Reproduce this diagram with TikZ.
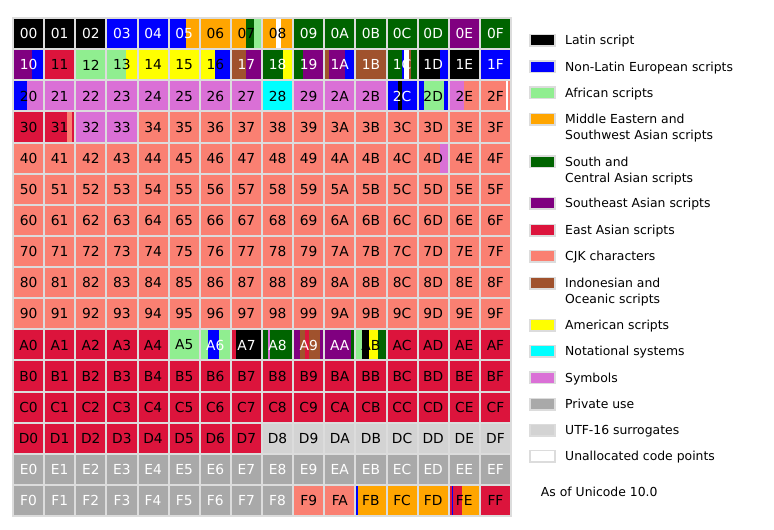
\documentclass[tikz,border=0pt]{standalone}
\usepackage{fontspec}
\setmainfont{DejaVu Sans}
\definecolor{latin}{HTML}{000000}
\definecolor{nonlatin}{HTML}{0000FF}
\definecolor{african}{HTML}{90EE90}
\definecolor{mideast}{HTML}{FFA500}
\definecolor{southasia}{HTML}{006400}
\definecolor{seasia}{HTML}{800080}
\definecolor{eastasia}{HTML}{DC143C}
\definecolor{cjk}{HTML}{FA8072}
\definecolor{indonesian}{HTML}{A0522D}
\definecolor{american}{HTML}{FFFF00}
\definecolor{notational}{HTML}{00FFFF}
\definecolor{symbols}{HTML}{DA70D6}
\definecolor{private}{HTML}{A9A9A9}
\definecolor{surrogate}{HTML}{D3D3D3}
\definecolor{unalloc}{HTML}{FFFFFF}
\definecolor{gridgray}{HTML}{DCDCDC}

\newcommand\defcell[3]{\expandafter\def\csname seg@#1\endcsname{#3}\expandafter\def\csname tc@#1\endcsname{#2}}
% row 0
\defcell{00}{white}{latin/0/1}
\defcell{01}{white}{latin/0/1}
\defcell{02}{white}{latin/0/1}
\defcell{03}{white}{nonlatin/0/1}
\defcell{04}{white}{nonlatin/0/1}
\defcell{05}{white}{nonlatin/0/.5625,mideast/.5625/1}
\defcell{06}{black}{mideast/0/1}
\defcell{07}{black}{mideast/0/.5,southasia/.5/.75,african/.75/1}
\defcell{08}{black}{mideast/0/.4375,unalloc/.4375/.625,mideast/.625/1}
\defcell{09}{white}{southasia/0/1}
\defcell{0A}{white}{southasia/0/1}
\defcell{0B}{white}{southasia/0/1}
\defcell{0C}{white}{southasia/0/1}
\defcell{0D}{white}{southasia/0/1}
\defcell{0E}{white}{seasia/0/1}
\defcell{0F}{white}{southasia/0/1}
% row 1
\defcell{10}{white}{seasia/0/.625,nonlatin/.625/1}
\defcell{11}{black}{eastasia/0/1}
\defcell{12}{black}{african/0/1}
\defcell{13}{black}{african/0/.625,american/.625/1}
\defcell{14}{black}{american/0/1}
\defcell{15}{black}{american/0/1}
\defcell{16}{black}{american/0/.5,nonlatin/.5/1}
\defcell{17}{white}{indonesian/0/.5,seasia/.5/1}
\defcell{18}{white}{southasia/0/.6875,american/.6875/1}
\defcell{19}{white}{southasia/0/.3125,seasia/.3125/1}
\defcell{1A}{white}{indonesian/0/.125,seasia/.125/.6875,nonlatin/.6875/1}
\defcell{1B}{white}{indonesian/0/1}
\defcell{1C}{white}{southasia/0/.5,nonlatin/.5/.5625,unalloc/.5625/.75,indonesian/.75/.8125,southasia/.8125/1}
\defcell{1D}{white}{latin/0/.75,nonlatin/.75/1}
\defcell{1E}{white}{latin/0/1}
\defcell{1F}{white}{nonlatin/0/1}
% row 2
\defcell{20}{black}{nonlatin/0/.4375,symbols/.4375/1}
\defcell{21}{black}{symbols/0/1}
\defcell{22}{black}{symbols/0/1}
\defcell{23}{black}{symbols/0/1}
\defcell{24}{black}{symbols/0/1}
\defcell{25}{black}{symbols/0/1}
\defcell{26}{black}{symbols/0/1}
\defcell{27}{black}{symbols/0/1}
\defcell{28}{black}{notational/0/1}
\defcell{29}{black}{symbols/0/1}
\defcell{2A}{black}{symbols/0/1}
\defcell{2B}{black}{symbols/0/1}
\defcell{2C}{white}{nonlatin/0/.375,latin/.375/.5,nonlatin/.5/1}
\defcell{2D}{black}{nonlatin/0/.1875,african/.1875/.875,nonlatin/.875/1}
\defcell{2E}{black}{symbols/0/.5,cjk/.5/1}
\defcell{2F}{black}{cjk/0/.875,unalloc/.875/.9375,cjk/.9375/1}
% row 3, 4
\defcell{30}{black}{eastasia/0/1}
\defcell{31}{black}{eastasia/0/.75,cjk/.75/.9375,eastasia/.9375/1}
\defcell{32}{black}{symbols/0/1}
\defcell{33}{black}{symbols/0/1}
\defcell{4D}{black}{cjk/0/.75,symbols/.75/1}
% row A
\defcell{A5}{black}{african/0/1}
\defcell{A6}{white}{african/0/.25,nonlatin/.25/.625,african/.625/1}
\defcell{A7}{white}{eastasia/0/.125,latin/.125/1}
\defcell{A8}{white}{southasia/0/.1875,symbols/.1875/.25,southasia/.25/1}
\defcell{A9}{white}{seasia/0/.1875,indonesian/.1875/.375,eastasia/.375/.5,indonesian/.5/.875,seasia/.875/1}
\defcell{AA}{white}{seasia/0/.875,southasia/.875/1}
\defcell{AB}{black}{african/0/.1875,latin/.1875/.4375,american/.4375/.75,southasia/.75/1}
% row F
\defcell{F9}{black}{cjk/0/1}
\defcell{FA}{black}{cjk/0/1}
\defcell{FB}{black}{nonlatin/0/.06,mideast/.06/1}
\defcell{FC}{black}{mideast/0/1}
\defcell{FD}{black}{mideast/0/1}
\defcell{FE}{black}{eastasia/0/.0625,nonlatin/.0625/.125,eastasia/.125/.4375,mideast/.4375/1}
\defcell{FF}{black}{eastasia/0/1}

\newcommand\drawcell[5]{%
  \pgfmathsetmacro\xa{14+31.125*#1}%
  \pgfmathsetmacro\ya{19+31.125*#2}%
  \foreach \scol/\sa/\sb in #5 {%
    \fill[\scol] ({\xa+29.125*\sa},\ya) rectangle ({\xa+29.125*\sb},{\ya+29.125});}%
  \node[celllabel,text=#4] (c#3) at ({\xa+14.5625},{\ya+14.8}) {#3};%
}

\tikzset{
  swatch/.style={draw=gridgray, line width=1.5pt, minimum width=25pt, minimum height=11.5pt, inner sep=0pt},
  legtext/.style={anchor=base west, inner sep=0pt, font=\fontsize{12.4}{16}\selectfont, align=left},
  celllabel/.style={inner sep=0pt, font=\fontsize{13.8}{16}\selectfont},
}

\begin{document}
\begin{tikzpicture}[x=1pt,y=-1pt]
\useasboundingbox (0,0) rectangle (774,530);
\fill[white] (0,0) rectangle (774,530);
\fill[gridgray] (12,17) rectangle (512,517);
\foreach \r [count=\ri from 0] in {0,1,2,3,4,5,6,7,8,9,A,B,C,D,E,F} {
  \foreach \c [count=\ci from 0] in {0,1,2,3,4,5,6,7,8,9,A,B,C,D,E,F} {
    \pgfmathtruncatemacro\n{16*\ri+\ci}%
    \ifcsname seg@\r\c\endcsname
      \expandafter\let\expandafter\segs\csname seg@\r\c\endcsname
      \expandafter\let\expandafter\tc\csname tc@\r\c\endcsname
    \else
      \ifnum\n<160 \def\segs{cjk/0/1}\def\tc{black}%
      \else\ifnum\n<216 \def\segs{eastasia/0/1}\def\tc{black}%
      \else\ifnum\n<224 \def\segs{surrogate/0/1}\def\tc{black}%
      \else \def\segs{private/0/1}\def\tc{white}%
      \fi\fi\fi
    \fi
    \drawcell{\ci}{\ri}{\r\c}{\tc}{\segs}%
  }
}
% last field: extra lines below the first (base anchor sits on the last line)
\foreach \col/\yc/\extra/\txt [count=\i] in {
  latin/40/0/{Latin script},
  nonlatin/66.7/0/{Non-Latin European scripts},
  african/92.7/0/{African scripts},
  mideast/119/16/{Middle Eastern and\\Southwest Asian scripts},
  southasia/161.7/16/{South and\\Central Asian scripts},
  seasia/203.3/0/{Southeast Asian scripts},
  eastasia/230/0/{East Asian scripts},
  cjk/256/0/{CJK characters},
  indonesian/283.3/16/{Indonesian and\\Oceanic scripts},
  american/325/0/{American scripts},
  notational/351/0/{Notational systems},
  symbols/377.7/0/{Symbols},
  private/404/0/{Private use},
  surrogate/430/0/{UTF-16 surrogates},
  unalloc/456/0/{Unallocated code points}} {
  \node[swatch, fill=\col] (sw\i) at (542.5,\yc) {};
  \node[legtext] (lt\i) at (565,{\yc+4.4+\extra}) {\txt};
}
\node[legtext] (note) at (540.7,496.7) {As of Unicode 10.0};
\end{tikzpicture}
\end{document}
